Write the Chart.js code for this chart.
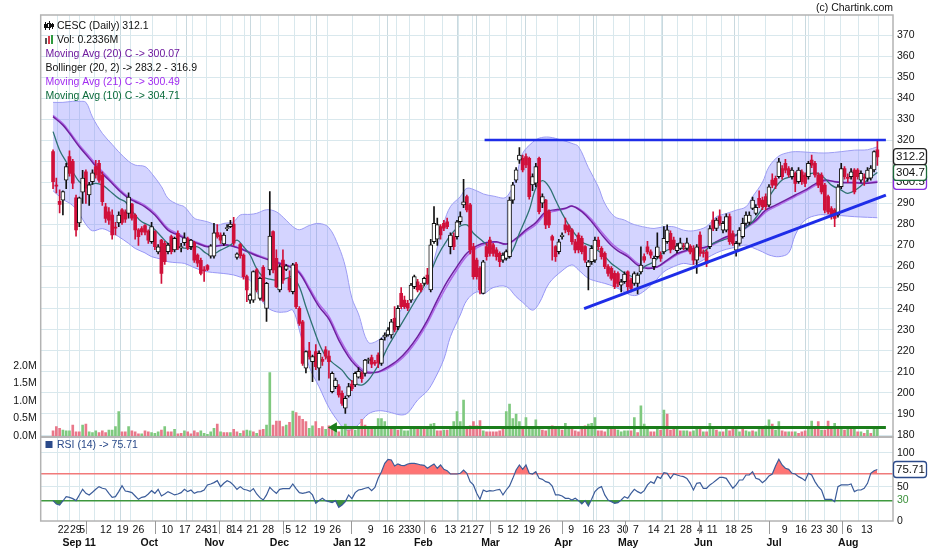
<!DOCTYPE html>
<html>
<head>
<meta charset="utf-8">
<script src="https://cdn.jsdelivr.net/npm/chart.js@4.4.1/dist/chart.umd.min.js"></script>
<style>html,body{margin:0;padding:0;background:#fff}canvas{display:block}</style>
</head>
<body>
<canvas id="c" width="930" height="551"></canvas>
<script>
(function () {
  'use strict';

  // daily candles, one per trading day (index 0 .. 251)
  const opens = [314.6,298.5,291,291.6,301,312.2,310,292.6,280.7,295.4, 305,294,300.3,307.5,309,303.5,288.4,286,284.5,278.5, 280.7,287,286,285.3,289.7,284.5,277.4,278,279.5,276.9, 271.8,276.6,267,272.6,271,267.1,274.2,267.9,275.8,269, 271.3,273.2,269.4,271.3,265.5,263,258.2,260.5,265,265, 276.1,275,270.8,278,279,280.2,264.4,270.5,265.5,255.2, 244.1,244.1,258.4,244.9,259.7,240.1,258.4,276.6,263.9,248.9, 263.1,258.7,254.4,248.1,261.2,240.2,233.8,211.7,220,214.8, 219.6,211.7,216,220.4,217.5,200.6,203,203,199.8,192.7, 198.6,204.2,203.8,207.5,209.5,209.3,215.4,216.8,214.5,218, 214,226.5,227.5,227.5,235.4,231.4,247.3,244.1,242.5,244.1, 250.5,252.8,251.2,252,256,248.9,271.8,273,279,280.6, 281.3,269.5,274.2,274.2,281.3,289.3,293.2,289.3,269.5,263.1, 259.2,247.3,269.5,272.6,270.3,267.9,266.3,263,263.9,264.7, 291.6,301.1,310.6,311.4,312.2,311.4,298.8,299.6,311.4,290.1, 291.6,286.1,274.2,269.5,267.1,274.2,279.8,279.3,277.4,271.8, 275,273.4,269.5,260,262.3,263.1,272.6,268.7,266.3,260, 259.2,256.8,256.7,251.2,252.8,257.5,253.6,252,252,257.5, 264.7,269.4,267,259.9,264.7,265.4,267,271.8,275.8,272.6, 267.5,268.6,269.6,268.6,269.7,268.6,263.1,275,266.4,267, 269.4,282.1,278.1,283.7,277.3,277.3,283.7,275.7,267.8,271, 274.2,280.5,281,287.6,285.2,292.4,291.6,293.2,289.2,301.1, 301.9,302.7,306.6,309,306.6,302.7,304.3,300.3,305,303.5, 302.7,310.6,309,303.5,303.5,298.7,293.2,287.6,286.8,284.5, 297.9,306.6,302.2,302.7,305.8,305.8,301,302.2,301.9,302, 305.9,315.5];
  const highs = [315.5,302,296.4,296,309,315,311,294,293,305.7, 306,300,306,310.5,310.5,305,290,288,287,281, 286,287.5,287,295,290,285,278,279,280,277.5, 281,277,270.5,273,272,271,275,274,277,271, 276,274,273,272,266,264,260,261,270.5,280.5, 280,276,276,280,282,283.4,266.5,271,266,256, 247,258,259,255,260.5,252.5,295.6,277,268,261, 267.9,261,258,261.5,262,241,234.5,220,224,218, 223,220,217,222,220,210,207,204,201,198.5, 204.5,206,210,212,210,216,216.5,218,215.5,219, 226,228.5,231,235,241,241.5,250,246,244,252, 256,254,252,255,259.2,273,288.5,283,280,282, 283,276,276,282,286,301.5,294,290,271,264, 260,263,271,274,271,269,267,266.5,268,293, 300,307,316.5,313,313.5,312,304,309,312,294.5, 292,287,275,270,273,276,283,280,278,273, 276,274.5,270,263,270,274,274,269.5,267,261, 260,258,257.5,254,257.5,258,254.5,257.5,257,269.4, 266,272,268,265,276,267,279,279.8,277,274, 271,273.5,271,273.5,270.5,270,270.5,276.5,268,268, 279.5,286,283,287,281.5,285,285,277,272,278.5, 283,286,286,293,289.5,296,293,294.5,299,304, 303,311.4,308,311,307.5,307,305,307,306,304.5, 310,313,310,304.5,304.5,299.5,294,288.5,287.5,299, 309,307.5,304,306.5,306.5,306.5,305.5,304,307,308, 315,320.3];
  const lows = [297,295,285.5,284.5,297,303,297,274.5,279,290, 290,289,299,302,300,289,281,280,273,275, 279,280,281,283,282,273,270,275,275,271, 271,268,266,252,261,266,266,267,268,267, 270,268,268,262,260,256,253,258,264,264, 273.5,271,270,277,278.5,270,263.5,264,254,243.3, 242.5,243,248,244,243.5,234,256,257,250,248, 252,258,248,247,240,232,213,209.5,216,205.3, 211,206,213,216,207,200,202,198,194,190.3, 198,201,203,207,205,208,214,212,213,212, 213,225,227,226,229,230,240,240,239,243, 249.5,248,248,251,251.5,248,271,270,273,277, 278,266,268,273,280,288,286,266,254,254, 247,247,263,265,265,263,260,262,263,264, 290,300,309,305,307,292,296,298,285,288, 278,278.5,263.1,262.5,266,273,276,275,270.5,266.5, 266.5,266,262,248.9,261,262,268,263.5,259,255.5, 253.5,249.5,250.5,248,252,247.5,248,251,247,256.5, 262,266,264,258.5,264,262.5,266,271,266.5,268, 266.5,268,268,268,266,261,256.8,265,264.5,260, 268.5,277,277,279.5,276,276.5,270.5,270,265,270, 273.5,279.5,280,287,284.5,288,287,287,288.5,297.5, 297,302,301.5,304.5,302.5,301.5,295.6,299.5,299,298, 301.5,307,302.5,297.5,294.5,285.5,285,282.5,279,283.5, 297,301.5,300,301.5,294.5,301.5,300,298.5,300.5,301, 305,308];
  const closes = [300.3,298.2,289.5,295.6,307.5,304.3,299.6,277.4,292.6,302, 297.2,298.8,304.5,303.5,301,290.8,282.9,282,275,278.3, 284.5,281,282.5,293,283,277.4,274.2,276.5,276.3,272.6, 279,269.4,269.4,256.8,262.3,270.2,267.1,273.4,268.7,269.2, 273.6,268.7,272.6,263.1,261.6,256.8,258,258.6,269.8,276, 274.2,272.6,275,278.2,280.2,271.1,266,265.2,255.2,248.9, 246.5,257.6,248.9,254.4,244.1,252,274.5,258.4,250.5,260, 253.6,260.3,248.9,260.8,241,233,214,219.6,217.2,217.2, 212.4,218.8,215,217.5,214.8,209.3,206.1,199,195,197.4, 203,202,209.3,210.2,206.8,215.6,215.6,213.6,214,214.5, 225.4,227.5,229.9,233.8,229.9,240.2,240.9,240.9,240.2,251.2, 255.2,248.9,248.9,254.4,252,270.3,280.6,280,275,278.2, 279,275,269.5,281.3,283.7,290.8,286.9,267.9,255.2,255.2, 248.9,262.3,264.7,266.3,266.3,264.7,262.3,265.5,267.1,291.6, 298.8,305.9,313,305.9,308.3,293.2,302.7,307.5,286.1,293.2, 279.8,279.8,272.6,264.7,271.8,275,277.4,276.6,271.8,267.9, 267.9,267.1,263.1,262.3,268.7,272.6,269.5,264.7,260,256.8, 254.4,250.5,252,252.8,256.4,250.4,249.6,256.7,256,260.7, 263.1,267,265.4,263.9,269.4,263.9,273.4,277.4,267.9,268.6, 269.8,271.3,269.4,271.3,267,263.1,269.4,266.2,266.2,261.5, 278.1,278.1,282.1,280.5,280.5,283.7,271.8,271,271,277.3, 280.5,284.5,284.5,291.6,288.1,289.2,288.4,288.4,297.9,298.7, 298.7,309.8,302.7,305.8,303.5,305.8,299.5,305.8,300.3,299.5, 309,308.2,303.5,298.7,295.5,286.8,286,283.7,282.9,297.9, 306.6,302.7,301.9,305,295.5,302.7,304.3,302,305.8,306.8, 314.6,312.1];

  // volume in millions, g = green bar, r = red bar
  const volumes = [.15,.27,.22,.17,.15,.15,.31,.12,.12,.31, .34,.12,.10,.15,.10,.15,.10,.17,.17,.27, .70,.12,.12,.27,.15,.12,.06,.06,.15,.12, .10,.08,.12,.17,.27,.12,.12,.19,.06,.08, .15,.12,.06,.15,.10,.15,.08,.05,.12,.22, .34,.12,.10,.10,.10,.19,.12,.08,.15,.17, .15,.12,.08,.17,.19,.31,1.81,.31,.43,.43, .27,.31,.39,.71,.67,.57,.48,.41,.22,.29, .41,.22,.27,.19,.29,.22,.22,.12,.22,.34, .17,.22,.17,.22,.48,.31,.22,.22,.22,.50, .50,.41,.19,.19,.22,.17,.19,.15,.15,.22, .27,.22,.19,.19,.27,.34,.36,.15,.15,.17, .17,.27,.41,.70,.41,1.03,.27,.29,.41,.29, .44,.15,.12,.12,.12,.12,.15,.22,.70,.91, .50,.63,.41,.19,.53,.22,.19,.46,.22,.17, .15,.27,.29,.22,.19,.17,.36,.27,.22,.15, .12,.22,.29,.34,.36,.53,.15,.15,.12,.19, .22,.19,.17,.12,.15,.15,.15,.53,.10,.86, .34,.22,.12,.12,.22,.17,.74,.63,.17,.22, .19,.15,.15,.15,.12,.15,.22,.22,.12,.12, .36,.19,.17,.12,.12,.22,.15,.22,.22,.12, .19,.15,.12,.15,.12,.19,.22,.29,.46,.34, .17,.41,.15,.12,.12,.12,.12,.08,.12,.15, .22,.43,.22,.41,.17,.17,.43,.22,.36,.22, .22,.17,.22,.22,.22,.12,.12,.08,.17,.08, .22,.234];
  const volDir = ('rrrgggrrrg rgggrrrggg grrgrrrgrr gggrgrrgrr grrrrggggg rgrrgrrgrg grgrrggrrr rgrgrrrrgg rrrgrrgrgg rrggrrgrgg ' +
    'gggrgrgggg grgrgggrrg rgggggrrrr rgrrrrrrgg gggrgggggr rgrrgrggrr rrrgggrrrg rrggggrgrg ggrrgrgrrr grggrggrgr ' +
    'ggrgrgrrgg rggrggrggr ggrrgrgrrr ggrrgrrrgr grgrgrgrgr gg').replace(/ /g, '').split('');

  const rsi = [30,25,23.5,29.4,35.8,34.8,32.9,30,38.3,46.6, 40.7,38.3,42.2,46.6,50.5,48.1,47.1,40.7,34.8,35.8, 43.2,52,44.1,43.2,41.7,36.8,31.9,34.8,35.8,39.7, 44.6,40.7,46.6,36.8,39.7,43.2,40.7,38.3,39.7,41.7, 46.6,43.2,45.6,40.7,42.7,43.2,45.6,53,54.4,56.4, 59.3,50.5,55.4,59.3,56.9,52.5,46.6,50.5,46.6,45.6, 43.6,47.6,39.7,34.3,30.9,38.3,49.5,44.6,40.7,46.6, 47.6,47.6,47.6,54.4,47.6,41.7,40.7,41.7,43.2,38.3, 26,30,33.4,29.9,28.5,27,29.9,20.1,23.6,28.5, 38.3,32.9,41.7,45.6,46.6,48.1,49.5,44.6,49.5,62.7, 72.5,84.8,90.7,89.7,80.9,83.8,81.9,81.4,83.8,84.8, 84.8,83.8,82.4,81.9,77.5,80.9,83.8,77.5,82.4,76, 74,69.1,69.1,69.1,70.1,75,70.1,57.9,53,40.7, 31.9,45.6,43.2,44.6,44.1,45.6,46.6,38.3,45.6,51.5, 62.7,75,82.4,76,82.4,70.1,69.1,72.5,62.7,61.3, 57.9,56.4,51.5,38.3,38.3,36.8,33.4,33.4,30.9,33.4, 29.9,25,29.9,22.1,31.9,43.2,48.1,50.5,38.3,30.9, 28.5,26,27,30.9,35.8,33.4,40.7,46.6,43.2,40.7, 44.6,53,57.9,55.4,65.2,62.7,71.1,70.1,62.7,69.1, 67.6,66.2,65.2,62.7,55.4,45.6,55.4,56.4,48.1,48.1, 53,56.4,60.3,64.2,64.2,62.7,55.4,48.1,53,60.3, 60.3,67.6,67.6,72.5,62.7,61.3,56.4,60.3,66.2,69.1, 80.9,90.7,82.4,77.5,76,70.1,69.1,65.2,62.7,59.3, 70.1,67.6,57.9,50.5,45.6,31.9,31.9,31.9,28.5,50.5, 53,53,53,54.4,43.2,45.6,45.6,48.1,55.4,70.1, 74,75.71];

  // indicator lines, read at the day indexes given
  const bbIdx = [0,3,6,8,10,12,15,18,20,23, 25,28,30,33,35,38,40,43,45,47, 50,52,55,57,60,62,65,68,71,73, 75,78,81,84,87,89,91,93,96,99, 102,106,108,111,114,116,119,121,124,126, 129,131,134,138,141,143,146,148,151,155, 158,160,163,166,168,171,174,176,178,181, 183,186,189,192,195,199,202,205,208,211, 213,216,218,221,224,226,229,233,236,240, 244,248,251];
  const bbUpper = [338,338,338.5,338.5,338,331,323.3,318,314.5,310, 308.2,307.5,304.3,298,292.4,289.5,288.4,283,282,281.3, 279.7,280.5,281.3,284.5,284.8,285.3,287,286,282,279, 277.5,279.5,280.5,278.5,269.4,260,245,237.5,224,225, 230,239.4,242,245.7,252,263,280.6,288.5,293.2,297.2, 296,294.5,293.5,293,303,313.8,319,321,321.5,320, 318.5,317,307,298,290,283.7,282.1,280.5,279.5,278.5, 278.1,278.9,278.9,277.3,277,279,283.7,285.2,286.8,288.4, 293.2,300,307.4,312.5,314.2,314.6,314.4,314,314,314.6, 315.3,315.5,316.9];
  const bbLower = [296,292,289,285,280,277,278,276,274.2,271, 268.6,266.5,264.7,263.5,262.3,261.8,261.5,259.5,258.3,257.5, 257,256.7,256,255,253.5,248,240.9,238.5,238.5,239.3, 229.8,212.4,202.9,193,186,182.5,182.5,185,190,191.5, 191,189.5,190.5,196.6,201,206,216,226.7,237,244, 248,247,250,250.5,245.7,243,239.3,242.5,252,258, 260.8,258.4,254.4,252.8,252,250.4,248,246.4,246.5,249.6, 252.5,257.5,260,261.5,261,264,266.5,268.2,269.2,270.2, 269,267,265.5,264.7,266.5,275,282.1,284.5,284.5,284.2, 283.7,283.4,283.2];

  const maIdx = [0,3,5,8,11,14,17,20,23,25, 28,31,35,38,41,44,47,50,53,57, 60,63,66,69,72,75,78,81,84,87, 90,92,94,96,99,102,105,108,111,114, 117,120,123,126,129,132,135,138,141,144, 147,150,153,156,158,161,164,167,170,172, 175,178,181,184,187,190,193,196,199,202, 205,208,211,214,217,220,223,226,229,232, 235,238,241,244,247,251];
  const ma20 = [331.2,327.2,323.3,316.9,311.4,305.8,301.1,296.3,292.4,290.8, 288.4,284.5,277.3,275,272.6,271,269.4,269.8,270.2,268.5, 266.5,264.6,263,261.5,260,257,249,241,235,225.1, 217.1,213.2,210.5,209.5,210,212.4,215.6,220.4,226.7,234.6, 244.1,252.8,260,266.3,269.8,271.4,271.8,270.7,273.4,277.4, 280.9,286,287,287.7,288.8,286.1,281.3,275.3,270,267.5, 264.7,260.7,259.1,259.9,263.1,266.2,267.8,268.6,269.4,271.8, 274.2,275,278.9,282.1,286.8,289.2,291.6,294,296.3,299.2, 301.1,300.3,299.8,299.8,299.5,300.07];
  const ma21 = [331.8,327.9,324.1,317.8,312.4,306.8,302,297.1,293.1,291.4, 289.1,285.3,278.2,275.7,273.2,271.4,269.8,270,270.3,268.8, 266.9,265,263.3,261.8,260.3,257.6,250.1,242.3,236.4,226.6, 218.4,214.3,211.3,210,209.8,211.7,214.7,219.2,225.4,233.1, 242.4,251,258.5,265,268.9,270.8,271.5,270.6,272.9,276.6, 279.9,285,286.4,287.4,288.6,286.6,282.3,276.5,271.2,268.5, 265.6,261.5,259.6,259.8,262.6,265.6,267.4,268.3,269.1,271.2, 273.6,274.6,278.2,281.4,285.9,288.5,290.9,293.3,295.6,298.5, 300.7,300.4,300.1,300.1,299.8,300.49];

  const ma10Idx = [0,2,4,6,8,10,13,15,17,20, 22,25,27,30,33,35,38,41,44,46, 48,51,54,56,58,60,62,64,66,68, 71,73,75,77,79,81,83,85,88,90, 92,94,96,98,100,102,105,108,111,114, 117,120,123,126,128,131,134,136,138,140, 142,145,147,149,151,153,155,158,161,164, 167,170,172,175,178,180,183,186,189,192, 195,198,201,204,207,210,213,216,219,222, 225,228,231,233,235,237,240,242,245,248, 251];
  const ma10 = [324.1,315.3,309.8,305,300.3,298.7,299.5,298.7,296.3,292.4, 290.8,284.5,281.3,278.9,274.2,271,269.4,268.6,269.4,267, 265.4,267.8,270.2,272.6,269.4,265.5,259,255,254,253.6, 254.4,255.2,250.4,240.9,232,223.5,217.5,214.5,210.8,206.8, 204.5,203.7,206,210.5,215.6,222,229.9,237.8,245.7,253.6, 264.7,272.6,278.2,279.8,275.8,271.8,267.9,264.7,263.9,267.9, 275.8,286.9,297.2,300.8,298,291.6,285.3,277.4,271.8,269.5, 266.3,261.5,259.2,256,255.2,259.9,262.3,267,268.6,268.6, 267,267,271,272.6,274.2,277.3,281.3,287.6,295.5,301.1, 302.7,302.7,304.3,304.3,301.9,298.7,296.3,294.8,297.1,301.1, 304.71];

  // drawn lines: [day index, price]
  const resistance = [[131.4, 320.1], [253.6, 320.1]];
  const support = [[161.7, 240], [253.6, 293.9]];
  const greenLine = [[85.5, 183.6], [253.6, 183.6]];

  // axis ticks
  const dayPos = [3.2,6.9,8.9,16.1,21.2,26,34.8,40.1,45.1,48.3, 53.6,55.9,60.7,65.5,71.6,75.4,81.1,85.9,96.7,102.1, 106.9,110.2,115.9,121,125.7,129.5,136.3,140,145,149.7, 157.8,163,167.8,173.4,177.5,182.9,187.7,192.7,197,200.7, 206.4,211.2,222.8,227.8,232.5,237.2,242.5,247.8];
  const dayLabels = ['22','29','5','12','19','26','10','17','24','31', '8','14','21','28','5','12','19','26','9','16', '23','30','6','13','21','27','5','12','19','26', '9','16','23','30','7','14','21','28','4','11', '18','25','9','16','23','30','6','13'];
  const monthPos = [9.9,30.9,50.4,69.9,90.8,113,133.1,154.9,174.3,196.8,218,240.2];
  const monthLabels = ['Sep 11','Oct','Nov','Dec','Jan 12','Feb','Mar','Apr','May','Jun','Jul','Aug'];
  const priceTicks = [180,190,200,210,220,230,240,250,260,270,280,290,300,310,320,330,340,350,360,370];
  const volTicks = [0,0.5,1,1.5,2];
  const rsiTicks = [0,30,50,70,100];

  const legendLines = [
    ['CESC (Daily) 312.1', '#111'],
    ['Vol: 0.2336M', '#111'],
    ['Moving Avg (20) C -> 300.07', '#6e1a9e'],
    ['Bollinger (20, 2) -> 283.2 - 316.9', '#111'],
    ['Moving Avg (21) C -> 300.49', '#a12cf0'],
    ['Moving Avg (10) C -> 304.71', '#0b6b3b'],
  ];

  const FONT = "'Liberation Sans', Arial, sans-serif";
  Chart.defaults.font.family = FONT;
  Chart.defaults.font.size = 10.5;
  Chart.defaults.color = '#111';

  const RED = '#d0103a';
  const GRID = '#d9e8ed';
  const up = closes.map((c, i) => c >= opens[i]);
  const pts = (idx, vals) => idx.map((x, k) => ({ x, y: vals[k] }));
  const pairs = (arr) => arr.map(([x, y]) => ({ x, y }));

  const overlay = {
    id: 'overlay',
    afterDraw(chart) {
      const { ctx, chartArea: a, scales: s } = chart;
      ctx.save();
      ctx.strokeStyle = '#b3b3b3';
      ctx.lineWidth = 1.5;
      ctx.strokeRect(a.left, a.top, a.right - a.left, s.y.bottom - a.top);
      ctx.strokeRect(a.left, s.yRsi.top, a.right - a.left, s.yRsi.bottom - s.yRsi.top);

      ctx.strokeStyle = '#9a9a9a';
      ctx.lineWidth = 1;
      monthPos.forEach((v) => {
        const x = Math.round(s.x.getPixelForValue(v)) + 0.5;
        ctx.beginPath(); ctx.moveTo(x, a.bottom); ctx.lineTo(x, a.bottom + 13); ctx.stroke();
      });

      ctx.font = '10.5px ' + FONT;
      ctx.textBaseline = 'middle';
      legendLines.forEach(([t, c], k) => {
        ctx.fillStyle = c;
        ctx.fillText(t, k < 2 ? 57 : 45.5, 26 + k * 14);
      });
      // candle icon
      ctx.fillStyle = '#111';
      ctx.fillRect(45, 22, 1, 8); ctx.fillRect(44, 24, 3, 4);
      ctx.fillRect(49, 21, 1, 9); ctx.strokeStyle = '#111'; ctx.strokeRect(47.5, 23.5, 3, 4);
      ctx.fillRect(52, 23, 1, 6); ctx.fillRect(51, 24, 3, 3);
      // volume icon
      ctx.fillStyle = '#555'; ctx.fillRect(45, 38, 2, 6);
      ctx.fillStyle = '#d83a4a'; ctx.fillRect(48, 36, 2, 8);
      ctx.fillStyle = '#2e9a3e'; ctx.fillRect(51, 35, 2, 9);

      ctx.fillStyle = '#2b4a8a';
      ctx.fillRect(45.5, 441, 7, 7);
      ctx.fillText('RSI (14) -> 75.71', 57, 445);

      ctx.fillStyle = '#111';
      ctx.textAlign = 'right';
      ctx.fillText('(c) Chartink.com', 893, 8);
      ctx.textAlign = 'left';

      const box = (scale, v, txt, color) => {
        const y = scale.getPixelForValue(v);
        ctx.beginPath();
        ctx.roundRect(893.5, y - 8, 33, 16, 3);
        ctx.fillStyle = '#fff'; ctx.fill();
        ctx.strokeStyle = color; ctx.lineWidth = 1.3; ctx.stroke();
        ctx.fillStyle = '#111';
        ctx.font = '11.5px ' + FONT;
        ctx.fillText(txt, 896, y + 0.5);
      };
      box(s.y, 300.49, '300.5', '#8a2be2');
      box(s.y, 304.71, '304.7', '#1d6b3a');
      box(s.y, 312.2, '312.2', '#222');
      box(s.yRsi, 75.71, '75.71', '#2b4a8a');
      ctx.restore();
    },
  };

  const lineDs = (data, color, width, order, extra) => Object.assign({
    type: 'line', data, borderColor: color, borderWidth: width, pointRadius: 0,
    tension: 0.35, fill: false, order, yAxisID: 'y',
  }, extra || {});

  const candleIdx = closes.map((_, i) => i);

  new Chart(document.getElementById('c'), {
    type: 'line',
    data: {
      datasets: [
        lineDs(pts(bbIdx, bbUpper), '#9d9df3', 1, 30, { fill: '+1', backgroundColor: 'rgba(125,125,255,0.33)' }),
        lineDs(pts(bbIdx, bbLower), '#9d9df3', 1, 30),
        {
          type: 'bar', yAxisID: 'yVol', order: 25, grouped: false, barThickness: 2,
          data: volumes.map((v, i) => ({ x: i, y: v })),
          backgroundColor: volDir.map((d) => (d === 'g' ? '#7fc97f' : '#e9788a')),
        },
        lineDs(pts(maIdx, ma21), '#b06ae8', 1.5, 12),
        lineDs(pts(maIdx, ma20), '#6f1f9f', 1.5, 11),
        lineDs(pts(ma10Idx, ma10), '#2f7373', 1.3, 10),
        {
          type: 'bar', yAxisID: 'y', order: 6, grouped: false, barThickness: 1,
          data: candleIdx.map((i) => ({ x: i, y: [lows[i], highs[i]] })),
          backgroundColor: candleIdx.map((i) => (up[i] ? '#111' : RED)),
        },
        {
          type: 'bar', yAxisID: 'y', order: 5, grouped: false, barThickness: 3,
          data: candleIdx.filter((i) => !up[i]).map((i) => ({ x: i, y: [opens[i], closes[i]] })),
          backgroundColor: RED, borderWidth: 0, minBarLength: 1,
        },
        {
          type: 'bar', yAxisID: 'y', order: 4, grouped: false, barThickness: 4,
          data: candleIdx.filter((i) => up[i]).map((i) => ({ x: i, y: [opens[i], closes[i]] })),
          backgroundColor: '#fff', borderColor: '#111', borderWidth: 1, borderSkipped: false, minBarLength: 1,
        },
        lineDs(pairs(resistance), '#1e2de8', 2.5, 2, { tension: 0 }),
        lineDs(pairs(support), '#1e2de8', 3, 2, { tension: 0 }),
        lineDs(pairs(greenLine), '#1b7d1b', 3, 2, { tension: 0 }),
        lineDs([{ x: greenLine[0][0], y: greenLine[0][1] }], '#1b7d1b', 0, 1, {
          showLine: false, pointRadius: 6, pointStyle: 'triangle', pointRotation: -90,
          pointBackgroundColor: '#1b7d1b', pointBorderColor: '#1b7d1b',
        }),
        lineDs(rsi.map((v, i) => ({ x: i, y: v })), 'rgba(0,0,0,0)', 0, 9, {
          yAxisID: 'yRsi', tension: 0,
          fill: { target: { value: 30 }, above: 'rgba(0,0,0,0)', below: '#3f8f3f' },
        }),
        lineDs(rsi.map((v, i) => ({ x: i, y: v })), '#3b5c9a', 1.2, 8, {
          yAxisID: 'yRsi', tension: 0,
          fill: { target: { value: 70 }, above: '#ff7474', below: 'rgba(0,0,0,0)' },
        }),
      ],
    },
    options: {
      responsive: false,
      devicePixelRatio: 1,
      animation: false,
      layout: { padding: { top: 15, left: 0, right: 0, bottom: 0 } },
      plugins: { legend: { display: false }, tooltip: { enabled: false } },
      scales: {
        x: {
          type: 'linear', position: 'bottom', min: -1.6, max: 253.6, weight: 0,
          afterBuildTicks: (sc) => { sc.ticks = dayPos.concat(monthPos).map((value) => ({ value })); },
          afterFit: (sc) => { sc.height = 15; },
          ticks: { autoSkip: false, maxRotation: 0, padding: 3, callback: (v, i) => dayLabels[i] || '' },
          grid: { color: (c) => (c.index >= dayPos.length ? '#c9d9df' : GRID), drawTicks: false },
          border: { display: false },
        },
        xm: {
          type: 'linear', position: 'bottom', min: -1.6, max: 253.6, weight: 1,
          afterBuildTicks: (sc) => { sc.ticks = monthPos.map((value) => ({ value })); },
          afterFit: (sc) => { sc.height = 15; },
          ticks: { autoSkip: false, maxRotation: 0, padding: 1, font: { weight: 'bold' }, callback: (v, i) => monthLabels[i] },
          grid: { display: false, drawTicks: false },
          border: { display: false },
        },
        y: {
          type: 'linear', position: 'right', stack: 'R', stackWeight: 422, min: 179.05, max: 379.5,
          afterBuildTicks: (sc) => { sc.ticks = priceTicks.map((value) => ({ value })); },
          afterFit: (sc) => { sc.width = 37; },
          ticks: { autoSkip: false, padding: 4 },
          grid: { color: GRID, drawTicks: false },
          border: { display: false },
        },
        yRsi: {
          type: 'linear', position: 'right', stack: 'R', stackWeight: 84, min: 0, max: 123.5,
          afterBuildTicks: (sc) => { sc.ticks = rsiTicks.map((value) => ({ value })); },
          afterFit: (sc) => { sc.width = 37; },
          ticks: {
            autoSkip: false,
            padding: 4,
            color: (c) => (c.tick.value === 30 ? '#3a8f3a' : '#111'),
            callback: (v) => (v === 70 ? '' : String(v)),
          },
          grid: {
            color: (c) => {
              const v = c.tick.value;
              if (v === 70) return '#ef7b7b';
              if (v === 30) return '#3f9a3f';
              if (v === 0) return 'rgba(0,0,0,0)';
              return GRID;
            },
            lineWidth: (c) => (c.tick.value === 70 || c.tick.value === 30 ? 1.4 : 1),
            drawTicks: false,
          },
          border: { display: false },
        },
        yVol: {
          type: 'linear', position: 'left', min: -2.4286, max: 12.03,
          afterBuildTicks: (sc) => { sc.ticks = volTicks.map((value) => ({ value })); },
          afterFit: (sc) => { sc.width = 40.7; },
          ticks: { autoSkip: false, padding: 4, callback: (v) => v.toFixed(1) + 'M' },
          grid: { display: false, drawTicks: false },
          border: { display: false },
        },
      },
    },
    plugins: [overlay],
  });
})();
</script>
</body>
</html>
